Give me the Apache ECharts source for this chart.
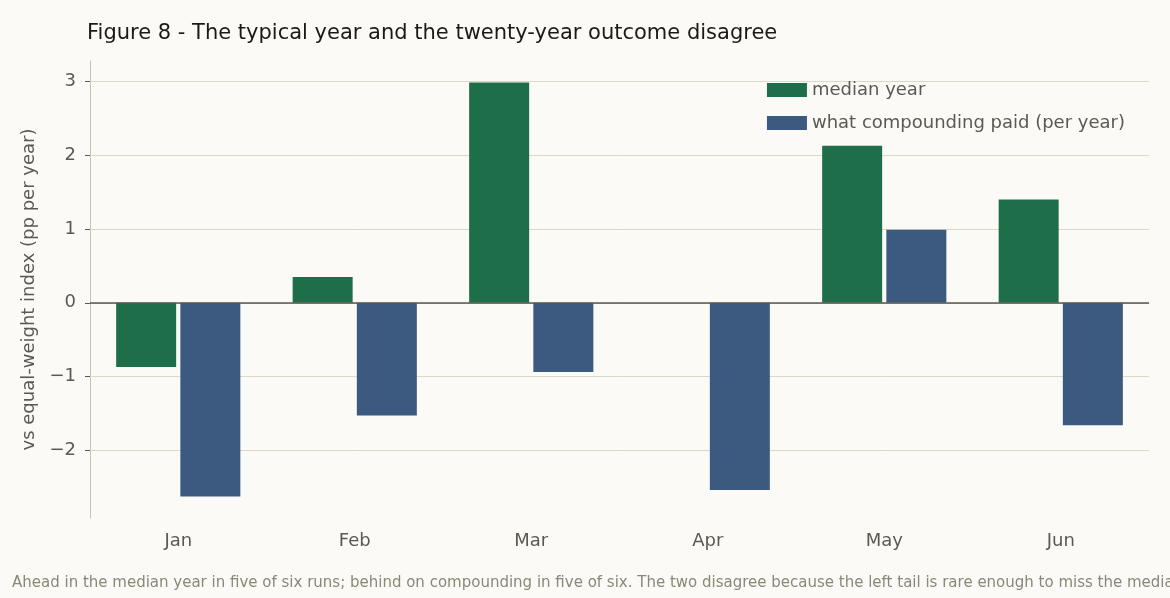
<!DOCTYPE html>
<html><head><meta charset="utf-8">
<script src="https://cdn.jsdelivr.net/npm/echarts@6/dist/echarts.min.js"></script>
<style>html,body{margin:0;padding:0;background:#fbfaf6}#c{width:1170px;height:598px}</style>
</head><body><div id="c"></div>
<script>
const categories = ['Jan','Feb','Mar','Apr','May','Jun'];
const medianYear = [-0.87, 0.35, 2.99, 0, 2.13, 1.40];
const compounding = [-2.63, -1.53, -0.94, -2.54, 0.99, -1.66];
const yTicks = [-2, -1, 0, 1, 2, 3];
const fmt = v => String(v).replace('-', '\u2212');
const chart = echarts.init(document.getElementById('c'));
chart.setOption({
  backgroundColor: '#fbfaf6',
  animation: false,
  textStyle: {fontFamily: 'DejaVu Sans'},
  title: {text: 'Figure 8 - The typical year and the twenty-year outcome disagree', left: 82, top: 18,
    textStyle: {fontSize: 21, fontWeight: 'normal', color: '#1a1a1a'}},
  graphic: [{type: 'text', left: 12, top: 576, style: {
    text: 'Ahead in the median year in five of six runs; behind on compounding in five of six. The two disagree because the left tail is rare enough to miss the median but large enough to dominate the compounded result.',
    fontSize: 15, fill: '#8a8878', fontFamily: 'DejaVu Sans'}}],
  legend: {orient: 'vertical', right: 40, top: 76, itemWidth: 40, itemHeight: 14, itemGap: 15,
    textStyle: {fontSize: 18, color: '#5a5a52'}, icon: 'rect'},
  grid: {left: 90, right: 21, top: 61, bottom: 80},
  xAxis: {type: 'category', data: categories,
    axisLine: {lineStyle: {color: '#c8c4b4'}},
    axisTick: {alignWithLabel: true, lineStyle: {color: '#5a5a52'}, length: 5},
    axisLabel: {fontSize: 18, color: '#5a5a52', margin: 14}},
  yAxis: {type: 'value', min: -2.92, max: 3.28,
    name: 'vs equal-weight index (pp per year)', nameLocation: 'middle', nameGap: 52,
    nameTextStyle: {fontSize: 18, color: '#5a5a52'},
    axisLine: {show: true, lineStyle: {color: '#c8c4b4'}},
    splitLine: {show: false},
    axisTick: {customValues: yTicks, show: true, lineStyle: {color: '#5a5a52'}, length: 5},
    axisLabel: {customValues: yTicks, formatter: fmt, fontSize: 18, color: '#5a5a52', margin: 14}},
  series: [
    {name: 'median year', type: 'bar', data: medianYear, barWidth: 60, barGap: '7%',
      itemStyle: {color: '#1f6e4a'}, z: 3,
      markLine: {silent: true, symbol: 'none', label: {show: false}, z: 1,
        lineStyle: {color: '#dcd8c6', width: 1, type: 'solid'},
        data: yTicks.filter(v => v !== 0).map(v => ({yAxis: v}))}},
    {name: 'what compounding paid (per year)', type: 'bar', data: compounding, barWidth: 60,
      itemStyle: {color: '#3c5a80'}, z: 3,
      markLine: {silent: true, symbol: 'none', label: {show: false}, z: 5,
        lineStyle: {color: '#5a5a52', width: 1.5, type: 'solid'}, data: [{yAxis: 0}]}}
  ]
});
</script></body></html>
